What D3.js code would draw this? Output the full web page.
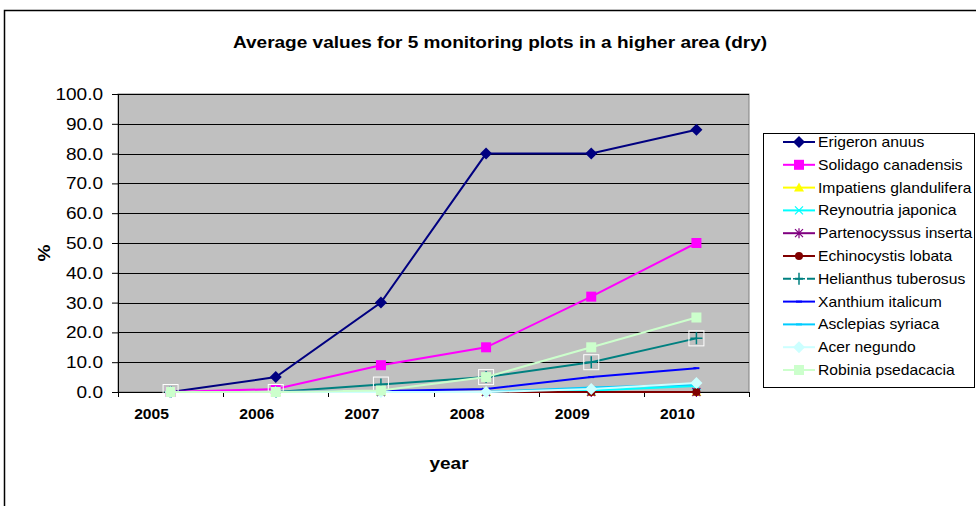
<!DOCTYPE html>
<html>
<head>
<meta charset="utf-8">
<script src="https://cdn.jsdelivr.net/npm/d3@7"></script>
<style>
  body { margin: 0; background: #fff; }
  text { font-family: Arial, "Liberation Sans", sans-serif; }
</style>
</head>
<body>
<div id="chart"></div>
<script>
'use strict';

// data
const years = ['2005', '2006', '2007', '2008', '2009', '2010'];
const yTicks = [0, 10, 20, 30, 40, 50, 60, 70, 80, 90, 100];

const erigeron = [0, 5, 30, 80, 80, 88];
const solidago = [0, 1, 9, 15, 32, 50];
const impatiens = [0, 0, 0, 0, 0, 0];
const reynoutria = [0, 0, 0, 0, 0.5, 2];
const partenocyssus = [0, 0, 0, 0, 0, 0];
const echinocystis = [0, 0, 0, 0, 0, 0];
const helianthus = [0, 0, 2.5, 5, 10, 18];
const xanthium = [0, 0, 0.3, 1, 5, 8];
const asclepias = [0, 0, 0, 0, 1.5, 2.5];
const acer = [0, 0, 0, 0, 1, 3];
const robinia = [0, 0, 0.5, 5, 15, 25];

const series = [
  {name: 'Erigeron anuus', values: erigeron, color: '#000080', marker: 'diamond'},
  {name: 'Solidago canadensis', values: solidago, color: '#ff00ff', marker: 'square'},
  {name: 'Impatiens glandulifera', values: impatiens, color: '#ffff00', marker: 'triangle'},
  {name: 'Reynoutria japonica', values: reynoutria, color: '#00ffff', marker: 'x'},
  {name: 'Partenocyssus inserta', values: partenocyssus, color: '#800080', marker: 'star'},
  {name: 'Echinocystis lobata', values: echinocystis, color: '#800000', marker: 'circle'},
  {name: 'Helianthus tuberosus', values: helianthus, color: '#008080', marker: 'plus'},
  {name: 'Xanthium italicum', values: xanthium, color: '#0000ff', marker: 'dash'},
  {name: 'Asclepias syriaca', values: asclepias, color: '#00ccff', marker: 'dash'},
  {name: 'Acer negundo', values: acer, color: '#ccffff', marker: 'diamond'},
  {name: 'Robinia psedacacia', values: robinia, color: '#ccffcc', marker: 'square'}
];

const width = 976;
const height = 506;
const plot = {left: 118, right: 749, top: 94, bottom: 392};
// the reference text is a little wider than plain Arial
const stretch = 1.12;

const svg = d3.select('#chart')
  .append('svg')
  .attr('width', width)
  .attr('height', height);

// outer chart frame (runs off the picture on right and bottom)
svg.append('rect')
  .attr('x', 4.5).attr('y', 10.5)
  .attr('width', 1000).attr('height', 600)
  .attr('fill', '#fff')
  .attr('stroke', '#000')
  .attr('stroke-width', 1.5);

const x = d3.scaleBand()
  .domain(years)
  .range([plot.left, plot.right]);

const y = d3.scaleLinear()
  .domain([0, 100])
  .range([plot.bottom, plot.top]);

const cx = d => x(d) + x.bandwidth() / 2;

// plot area
svg.append('rect')
  .attr('x', plot.left).attr('y', plot.top)
  .attr('width', plot.right - plot.left)
  .attr('height', plot.bottom - plot.top)
  .attr('fill', '#c0c0c0')
  .attr('stroke', '#808080')
  .attr('stroke-width', 1);

// gridlines
svg.append('g')
  .selectAll('line')
  .data(yTicks.slice(1))
  .join('line')
  .attr('x1', plot.left).attr('x2', plot.right)
  .attr('y1', d => Math.round(y(d)) + 0.5)
  .attr('y2', d => Math.round(y(d)) + 0.5)
  .attr('stroke', '#000')
  .attr('stroke-width', 1);

// y axis
const yAxis = svg.append('g')
  .attr('transform', `translate(${plot.left},0)`)
  .call(d3.axisLeft(y)
    .tickValues(yTicks)
    .tickFormat(d3.format('.1f'))
    .tickSize(6));
yAxis.select('.domain').attr('stroke', '#000');
yAxis.selectAll('text')
  .attr('x', 0)
  .attr('transform', `translate(-15,0) scale(${stretch},1)`)
  .attr('font-size', '17px')
  .attr('font-family', 'Arial, "Liberation Sans", sans-serif')
  .attr('fill', '#000');

// x axis: labels from the band scale, ticks on band edges
const xAxis = svg.append('g')
  .attr('transform', `translate(0,${plot.bottom})`)
  .call(d3.axisBottom(x).tickSize(0).tickPadding(17));
xAxis.select('.domain').remove();
xAxis.selectAll('text')
  .attr('x', 0)
  .attr('transform', `translate(-19,0) scale(${stretch},1)`)
  .attr('font-size', '14px')
  .attr('font-weight', 'bold')
  .attr('font-family', 'Arial, "Liberation Sans", sans-serif')
  .attr('fill', '#000');

svg.append('line')
  .attr('x1', plot.left).attr('x2', plot.right)
  .attr('y1', plot.bottom + 0.5).attr('y2', plot.bottom + 0.5)
  .attr('stroke', '#000');

const edges = years.map(d => x(d)).concat([plot.right]);
svg.append('g')
  .selectAll('line')
  .data(edges)
  .join('line')
  .attr('x1', d => Math.round(d) + 0.5).attr('x2', d => Math.round(d) + 0.5)
  .attr('y1', plot.bottom).attr('y2', plot.bottom + 5)
  .attr('stroke', '#000');

// markers
function drawMarker(g, type, color, px, py) {
  if (type === 'diamond') {
    g.append('path')
      .attr('d', `M${px},${py - 6}L${px + 6},${py}L${px},${py + 6}L${px - 6},${py}Z`)
      .attr('fill', color);
  } else if (type === 'square') {
    g.append('rect')
      .attr('x', px - 5).attr('y', py - 5)
      .attr('width', 10).attr('height', 10)
      .attr('fill', color);
  } else if (type === 'triangle') {
    g.append('path')
      .attr('d', `M${px},${py - 5}L${px + 5},${py + 4}L${px - 5},${py + 4}Z`)
      .attr('fill', color);
  } else if (type === 'x') {
    g.append('path')
      .attr('d', `M${px - 4},${py - 4}L${px + 4},${py + 4}M${px - 4},${py + 4}L${px + 4},${py - 4}`)
      .attr('stroke', color).attr('stroke-width', 1.2);
  } else if (type === 'star') {
    g.append('path')
      .attr('d', `M${px - 4},${py - 4}L${px + 4},${py + 4}M${px - 4},${py + 4}L${px + 4},${py - 4}M${px},${py - 5}L${px},${py + 5}`)
      .attr('stroke', color).attr('stroke-width', 1.2);
  } else if (type === 'circle') {
    g.append('circle')
      .attr('cx', px).attr('cy', py).attr('r', 4)
      .attr('fill', color);
  } else if (type === 'plus' || type === 'plusbare') {
    if (type === 'plus') {
      g.append('rect')
        .attr('x', px - 7.5).attr('y', py - 7.5)
        .attr('width', 15).attr('height', 15)
        .attr('fill', 'none')
        .attr('stroke', '#fff').attr('stroke-width', 1);
    }
    g.append('path')
      .attr('d', `M${px - 6},${py}L${px + 6},${py}M${px},${py - 6}L${px},${py + 6}`)
      .attr('stroke', color).attr('stroke-width', 1.5);
  } else if (type === 'dash') {
    g.append('path')
      .attr('d', `M${px - 3},${py}L${px + 3},${py}`)
      .attr('stroke', color).attr('stroke-width', 2);
  }
}

const line = d3.line()
  .x((d, i) => cx(years[i]))
  .y(d => y(d));

series.forEach(s => {
  const g = svg.append('g');
  g.append('path')
    .attr('d', line(s.values))
    .attr('fill', 'none')
    .attr('stroke', s.color)
    .attr('stroke-width', 2);
  s.values.forEach((v, i) => drawMarker(g, s.marker, s.color, cx(years[i]), y(v)));
});

// titles
function label(tx, ty, size, str, rotate) {
  const rot = rotate ? ` rotate(${rotate})` : '';
  svg.append('text')
    .attr('transform', `translate(${tx},${ty})${rot} scale(${stretch},1)`)
    .attr('text-anchor', 'middle')
    .attr('font-size', `${size}px`)
    .attr('font-weight', 'bold')
    .text(str);
}

label(500, 48, 17, 'Average values for 5 monitoring plots in a higher area (dry)');
label(50, 253, 17, '%', -90);
label(449, 469, 17, 'year');

// legend
const legend = svg.append('g');
legend.append('rect')
  .attr('x', 763.5).attr('y', 133.5)
  .attr('width', 211).attr('height', 254)
  .attr('fill', '#fff')
  .attr('stroke', '#000');

series.forEach((s, i) => {
  const ly = 142 + i * 22.8;
  const g = legend.append('g');
  g.append('line')
    .attr('x1', 783).attr('x2', 815)
    .attr('y1', ly).attr('y2', ly)
    .attr('stroke', s.color)
    .attr('stroke-width', 2)
    .attr('stroke-dasharray', s.marker === 'plus' ? '8,4' : null);
  drawMarker(g, s.marker === 'plus' ? 'plusbare' : s.marker, s.color, 799, ly);
  g.append('text')
    .attr('transform', `translate(818,${ly + 5}) scale(${stretch},1)`)
    .attr('font-size', '14px')
    .text(s.name);
});
</script>
</body>
</html>
